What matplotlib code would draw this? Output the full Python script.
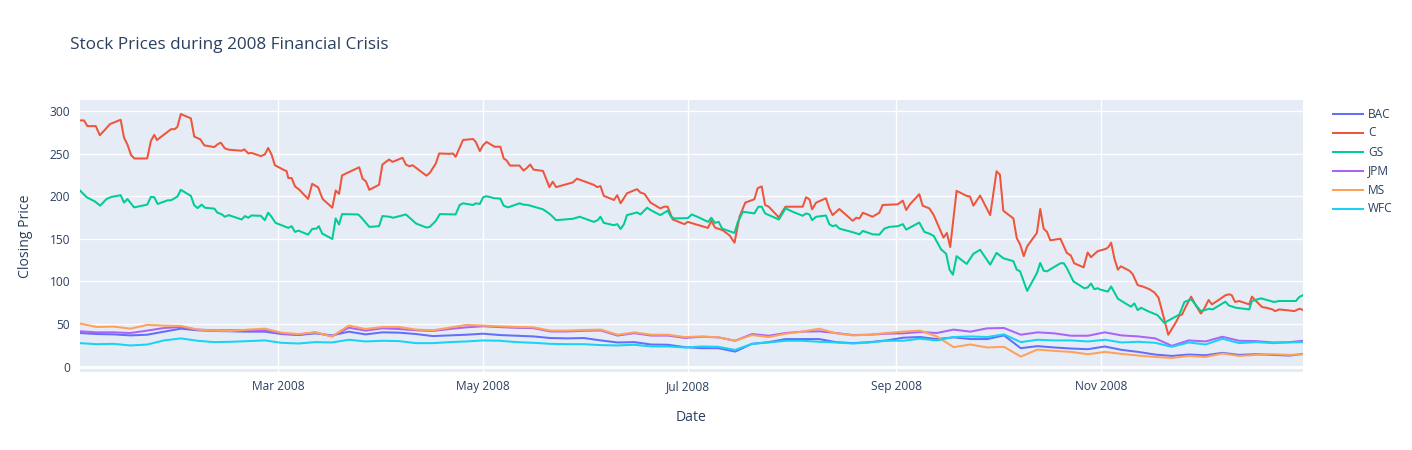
import numpy as np
import pandas as pd
import matplotlib
matplotlib.use("Agg")
import matplotlib.pyplot as plt
import matplotlib.dates as mdates
from matplotlib.lines import Line2D

plt.rcParams["font.family"] = ["Open Sans", "DejaVu Sans"]

# ---------------- data ----------------
START = "2008-01-02"

c_days = [0, 1.2, 2.2, 4.7, 5.9, 7.4, 8.9, 12.1, 13.1, 14.1, 15.2, 16.2, 20.0, 21.1, 22.1, 22.9,
          27.1, 28.2, 29.0, 30.0, 33.0, 34.0, 35.8, 37.0, 40.0, 40.9, 41.9, 43.1, 44.3, 48.1, 48.9,
          50.1, 51.0, 53.8, 55.0, 56.0, 57.0, 58.0, 60.5, 61.5, 62.0, 63.0, 64.0, 65.3, 67.9, 69.1,
          70.9, 72.2, 75.1, 76.1, 77.1, 78.0, 83.1, 84.1, 85.1, 86.1, 89.0, 90.0, 92.0, 93.0, 96.0,
          97.0, 98.0, 99.0, 103.1, 104.1, 105.9, 106.9, 109.9, 111.0, 111.8, 113.0, 114.0, 117.0,
          117.8, 119.0, 120.0, 121.0, 123.4, 125.1, 126.1, 126.9, 128.0, 130.8, 132.0, 133.0, 134.0,
          135.0, 137.8, 139.7, 140.7, 141.7, 146.7, 147.9, 152.9, 153.9, 154.9, 155.9, 158.9, 159.9,
          160.9, 162.8, 165.8, 166.8, 168.0, 169.8, 172.7, 173.9, 174.9, 176.4, 179.9, 180.9, 182.4,
          186.9, 187.9, 189.0, 191.3, 193.3, 194.8, 196.3, 198.0, 200.7, 201.7, 202.9, 203.9, 205.0,
          208.0, 209.2, 210.0, 215.1, 216.1, 217.1, 217.9, 219.1, 222.0, 223.0, 224.0, 226.0, 230.0,
          231.0, 232.0, 233.0, 235.9, 237.9, 238.9, 243.4, 244.9, 245.9, 247.1, 249.8, 250.8, 252.8,
          254.1, 257.0, 258.0, 259.0, 260.9, 263.9, 264.9, 265.9, 267.9, 270.9, 272.8, 273.8, 274.8,
          277.8, 278.8, 279.8, 280.9, 281.9, 284.8, 285.8, 286.8, 287.8, 288.8, 291.8, 293.7, 294.9,
          295.9, 298.7, 299.9, 300.9, 302.9, 305.4, 306.1, 306.9, 307.9, 308.9, 309.8, 312.3, 313.3,
          314.8, 316.3, 318.3, 319.8, 321.0, 323.9, 326.2, 327.2, 328.0, 329.2, 330.7, 332.1, 333.6,
          334.6, 335.9, 336.9, 338.9, 340.9, 342.1, 342.8, 343.8, 345.0, 348.0, 348.8, 350.0, 351.8,
          353.0, 354.9, 355.7, 356.9, 359.9, 361.4, 362.9, 363.9]
c_vals = [289.0, 289.0, 282.3, 282.3, 271.6, 277.9, 284.6, 289.8, 268.8, 260.9, 248.2, 244.3, 244.3,
          264.9, 272.0, 266.0, 278.7, 278.7, 281.5, 296.5, 291.4, 270.0, 266.8, 259.7, 257.7, 260.9,
          262.9, 256.2, 254.6, 253.4, 255.0, 250.2, 251.0, 247.1, 249.0, 256.6, 249.0, 236.4, 231.2,
          229.3, 221.3, 221.3, 211.5, 207.5, 196.8, 214.6, 210.3, 196.8, 186.5, 206.7, 202.8, 224.5,
          234.0, 220.6, 217.4, 207.5, 213.4, 237.2, 243.1, 240.3, 245.1, 237.2, 235.2, 236.4, 224.1,
          227.3, 238.4, 250.2, 249.8, 250.2, 246.3, 256.9, 266.0, 267.2, 263.7, 253.0, 260.1, 263.7,
          258.1, 258.1, 244.3, 242.3, 236.0, 236.0, 230.1, 233.2, 237.2, 231.2, 229.7, 210.7, 217.0,
          210.7, 216.2, 220.6, 213.4, 210.7, 211.9, 200.4, 195.6, 201.2, 191.7, 203.5, 208.3, 204.3,
          202.8, 192.5, 185.7, 187.7, 187.7, 172.7, 167.2, 169.9, 168.0, 162.8, 171.1, 163.2, 160.0,
          154.1, 145.4, 175.9, 192.5, 196.4, 209.5, 211.5, 189.7, 187.7, 175.1, 183.0, 187.7, 187.7,
          198.8, 196.4, 184.6, 192.5, 197.6, 185.7, 177.8, 185.0, 171.1, 174.7, 173.9, 180.6, 175.9,
          180.6, 189.7, 190.5, 194.8, 183.8, 190.9, 202.4, 188.9, 185.7, 177.8, 151.3, 156.9, 140.3,
          206.3, 200.4, 199.6, 188.9, 200.8, 177.8, 229.3, 225.3, 183.0, 173.9, 150.9, 143.4, 129.6,
          141.1, 156.9, 185.0, 162.0, 158.1, 148.2, 150.1, 133.5, 130.4, 121.3, 116.5, 133.9, 128.4,
          135.5, 138.3, 140.3, 145.4, 126.4, 113.8, 117.7, 112.6, 108.6, 95.6, 94.0, 90.8, 86.9, 80.9,
          37.4, 52.1, 60.0, 61.1, 71.0, 82.1, 71.8, 62.3, 67.9, 78.2, 73.0, 78.2, 83.7, 84.9, 83.7,
          75.8, 77.0, 73.0, 82.1, 77.0, 69.9, 69.1, 67.1, 65.1, 67.1, 65.9, 65.1, 67.9, 66.7]

gs_days = [0, 2.0, 4.5, 6.0, 7.9, 9.4, 12.1, 13.1, 14.1, 16.1, 20.0, 21.1, 22.1, 23.1, 26.1, 27.1,
           29.0, 30.0, 33.0, 34.0, 35.0, 36.2, 37.2, 40.0, 40.9, 42.1, 43.1, 44.3, 48.1, 49.1, 50.1,
           51.0, 53.8, 55.0, 56.0, 57.0, 58.2, 62.0, 63.0, 64.0, 65.0, 67.9, 69.1, 70.4, 71.1, 72.1,
           75.1, 76.1, 77.1, 78.0, 82.8, 83.8, 86.1, 89.0, 90.0, 92.2, 93.2, 97.0, 100.0, 103.1,
           104.1, 105.9, 107.1, 111.8, 113.0, 114.0, 117.0, 117.8, 119.0, 120.0, 121.0, 123.4, 125.1,
           126.1, 127.4, 130.8, 132.0, 133.3, 137.8, 139.3, 140.2, 141.7, 146.7, 148.7, 152.9, 154.1,
           154.9, 155.9, 158.9, 159.9, 160.9, 161.9, 162.8, 165.8, 166.8, 168.8, 169.8, 172.7, 174.9,
           175.9, 176.9, 180.9, 182.1, 184.4, 186.9, 187.9, 189.0, 190.1, 191.1, 194.8, 195.8, 197.3,
           200.7, 201.9, 202.9, 203.9, 208.0, 210.0, 212.1, 215.1, 216.1, 217.1, 217.9, 219.1, 222.0,
           223.0, 224.0, 225.0, 226.0, 230.0, 232.0, 233.0, 235.9, 237.9, 239.4, 240.9, 243.4, 244.9,
           245.9, 249.8, 251.3, 252.8, 254.1, 256.3, 257.8, 258.8, 259.8, 260.9, 263.9, 265.9, 267.9,
           270.9, 272.8, 274.8, 277.8, 278.8, 279.8, 281.9, 284.8, 285.8, 286.8, 287.8, 291.8, 292.8,
           293.7, 295.7, 298.9, 299.9, 300.9, 301.9, 302.9, 303.4, 305.9, 306.9, 308.9, 310.8, 312.8,
           313.8, 314.8, 315.8, 317.8, 320.7, 322.7, 327.2, 328.7, 330.7, 333.6, 336.1, 337.1, 340.9,
           341.9, 344.0, 348.0, 348.8, 351.5, 355.4, 356.9, 361.9, 362.9, 363.9]
gs_vals = [206.7, 198.8, 193.7, 188.9, 196.8, 199.2, 201.2, 192.5, 196.8, 186.9, 190.1, 199.2, 198.8,
           190.9, 195.2, 195.2, 199.6, 207.5, 200.4, 189.3, 186.1, 190.1, 186.5, 185.4, 180.6, 179.0,
           175.9, 177.8, 172.7, 176.7, 174.7, 177.4, 177.0, 171.9, 180.6, 175.9, 168.7, 162.8, 164.8,
           158.1, 159.6, 154.9, 161.6, 162.0, 164.8, 156.1, 149.8, 173.9, 166.8, 179.0, 178.6, 174.7,
           164.0, 164.8, 176.7, 175.9, 174.7, 178.6, 168.0, 163.2, 164.0, 171.1, 179.0, 178.6, 189.7,
           191.7, 189.7, 191.7, 190.9, 198.8, 200.0, 197.6, 197.2, 188.9, 186.9, 191.7, 190.1, 189.7,
           184.6, 180.6, 177.8, 171.9, 173.5, 175.9, 169.9, 171.9, 175.9, 168.7, 166.0, 167.2, 161.6,
           167.2, 177.8, 181.0, 178.6, 186.5, 183.8, 177.8, 183.0, 175.9, 173.9, 174.3, 178.6, 174.7,
           169.9, 174.7, 168.7, 169.9, 162.0, 156.9, 169.9, 181.8, 179.8, 187.7, 187.7, 179.8, 172.7,
           185.7, 181.8, 177.0, 179.8, 178.6, 171.9, 175.9, 177.4, 167.2, 164.8, 166.0, 162.0, 157.7,
           155.3, 159.3, 155.3, 154.9, 162.0, 164.0, 164.8, 167.2, 160.8, 169.1, 158.1, 156.1, 153.3,
           137.5, 132.4, 113.8, 107.8, 129.6, 120.5, 132.4, 137.1, 119.7, 133.5, 127.2, 123.7, 113.8,
           111.8, 88.8, 109.8, 121.7, 112.6, 111.8, 121.3, 121.3, 115.7, 99.9, 92.0, 92.8, 97.5, 90.8,
           92.0, 90.8, 88.0, 94.0, 79.7, 75.0, 70.3, 74.2, 66.3, 69.1, 65.1, 60.4, 51.3, 61.1, 75.8,
           79.0, 65.1, 67.9, 67.1, 76.2, 71.8, 69.1, 67.1, 77.0, 80.1, 75.8, 77.0, 77.0, 81.7, 83.7]

grid_days = list(range(0, 361, 5)) + [364]
bac_vals = [39.4, 38.2, 37.8, 36.6, 37.4, 41.0, 44.5, 42.6, 41.8, 41.4, 41.0, 41.0, 38.2,
            37.0, 39.0, 36.6, 41.0, 37.8, 40.2, 39.8, 38.2, 35.8, 36.6, 37.4, 38.6,
            37.0, 36.2, 35.4, 33.5, 33.1, 33.5, 30.7, 28.3, 28.7, 25.9, 25.6, 22.8,
            21.6, 21.6, 17.6, 26.7, 28.7, 32.3, 32.3, 32.3, 28.7, 27.5, 28.7, 30.7,
            33.9, 34.7, 32.3, 34.3, 32.3, 32.3, 36.6, 21.6, 24.0, 22.4, 21.2, 20.4,
            23.6, 19.6, 17.2, 14.1, 12.5, 14.1, 13.3, 16.1, 13.7, 14.5, 13.7, 12.9, 14.9]
jpm_vals = [41.4, 40.2, 40.2, 39.4, 42.2, 45.3, 46.5, 43.4, 42.6, 42.6, 42.6, 42.6, 39.0,
            37.4, 40.2, 35.4, 45.7, 42.2, 44.9, 44.1, 42.6, 41.8, 44.1, 46.1, 47.3,
            46.3, 45.5, 45.1, 41.2, 41.2, 42.0, 42.4, 36.4, 39.2, 36.4, 36.4, 33.6,
            35.0, 34.3, 30.3, 38.2, 36.2, 39.4, 41.0, 41.4, 39.4, 37.0, 37.4, 38.6,
            39.0, 40.6, 39.4, 43.4, 41.0, 44.9, 45.3, 37.4, 40.2, 39.0, 36.2, 36.2,
            40.2, 36.6, 35.4, 33.1, 24.4, 30.7, 29.5, 35.0, 30.3, 29.9, 28.3, 28.7, 30.3]
ms_vals = [50.5, 46.5, 46.9, 44.5, 48.9, 48.1, 47.7, 43.4, 42.2, 41.8, 43.4, 44.5, 39.8,
           38.2, 40.2, 35.4, 48.1, 44.1, 46.5, 46.5, 43.4, 42.6, 45.7, 48.9, 48.1,
           47.3, 46.5, 46.1, 42.2, 42.2, 43.0, 43.4, 37.4, 40.2, 37.4, 37.4, 34.6,
           35.4, 34.3, 30.3, 37.0, 34.7, 38.6, 41.0, 44.5, 39.0, 36.6, 37.4, 39.4,
           41.0, 42.2, 35.4, 22.8, 25.9, 22.4, 23.2, 11.7, 20.0, 18.4, 17.2, 14.5,
           17.2, 14.9, 12.9, 11.3, 10.1, 12.5, 11.3, 15.3, 12.5, 13.7, 14.5, 13.7, 14.5]
wfc_vals = [27.5, 26.3, 26.7, 24.8, 25.9, 30.7, 33.1, 30.3, 28.7, 29.1, 29.9, 30.7, 27.9,
            27.1, 28.7, 28.3, 31.5, 29.5, 30.3, 29.9, 27.5, 27.5, 28.7, 29.5, 30.7,
            30.3, 28.7, 27.9, 26.7, 26.3, 26.3, 25.2, 24.8, 25.6, 23.6, 23.6, 22.4,
            23.6, 23.2, 19.6, 26.7, 28.3, 30.3, 30.3, 29.1, 28.3, 27.1, 28.3, 30.3,
            30.3, 32.7, 30.7, 34.7, 35.4, 34.7, 37.8, 28.7, 31.5, 30.7, 30.7, 29.5,
            31.5, 28.3, 29.1, 27.9, 23.2, 28.3, 25.9, 32.7, 27.5, 28.7, 27.5, 28.3, 28.7]

tickers = ["BAC", "C", "GS", "JPM", "MS", "WFC"]
colors = ["#636efa", "#EF553B", "#00cc96", "#ab63fa", "#FFA15A", "#19d3f3"]

title = "Stock Prices during 2008 Financial Crisis"
x_title = "Date"
y_title = "Closing Price"

# ---------------- build series ----------------
def to_dates(days):
    return pd.Timestamp(START) + pd.to_timedelta(np.asarray(days, dtype=float), unit="D")

series = {
    "BAC": (to_dates(grid_days), bac_vals),
    "C": (to_dates(c_days), c_vals),
    "GS": (to_dates(gs_days), gs_vals),
    "JPM": (to_dates(grid_days), jpm_vals),
    "MS": (to_dates(grid_days), ms_vals),
    "WFC": (to_dates(grid_days), wfc_vals),
}

W, H = 1412, 450
fig = plt.figure(figsize=(W / 100, H / 100), dpi=100)
L, R, T, B = 80, 1303, 100, 372
ax = fig.add_axes([L / W, 1 - B / H, (R - L) / W, (B - T) / H])
ax.set_facecolor("#E5ECF6")
fig.patch.set_facecolor("white")

for t, col in zip(tickers, colors):
    d, v = series[t]
    ax.plot(d, v, color=col, lw=1.45, solid_joinstyle="round", zorder=3)

# axes ranges
all_vals = np.concatenate([np.asarray(series[t][1], float) for t in tickers])
vmin, vmax = all_vals.min(), all_vals.max()
pad = (vmax - vmin) * 0.0575
ax.set_ylim(vmin - pad, vmax + pad)
all_dates = pd.DatetimeIndex(np.concatenate([series[t][0].values for t in tickers]))
ax.set_xlim(all_dates.min(), all_dates.max())

# grid
ax.set_yticks(np.arange(0, 301, 50))
ax.xaxis.set_major_locator(mdates.MonthLocator(bymonth=[3, 5, 7, 9, 11]))
ax.xaxis.set_major_formatter(mdates.DateFormatter("%b %Y"))
ax.grid(True, color="white", lw=1.0, zorder=0)
ax.set_axisbelow(True)
ax.axhline(0, color="white", lw=2.0, zorder=1)
for s in ax.spines.values():
    s.set_visible(False)
tc = "#2a3f5f"
ax.tick_params(axis="both", length=0, colors=tc, labelsize=8.6)
ax.tick_params(axis="y", pad=7)
ax.tick_params(axis="x", pad=6)

ax.set_xlabel(x_title, fontsize=10.1, color=tc, labelpad=12)
ax.set_ylabel(y_title, fontsize=10.1, color=tc, labelpad=12)

fig.text(70 / W, 1 - 45 / H, title, fontsize=12.3, color=tc, va="center", ha="left")

# legend
for i, (t, col) in enumerate(zip(tickers, colors)):
    y = 1 - (114 + 19 * i) / H
    fig.add_artist(Line2D([1333 / W, 1363 / W], [y, y], color=col, lw=1.45,
                          transform=fig.transFigure))
    fig.text(1368 / W, y, t, fontsize=8.6, color=tc, va="center", ha="left")

fig.savefig("out.png", dpi=100)
